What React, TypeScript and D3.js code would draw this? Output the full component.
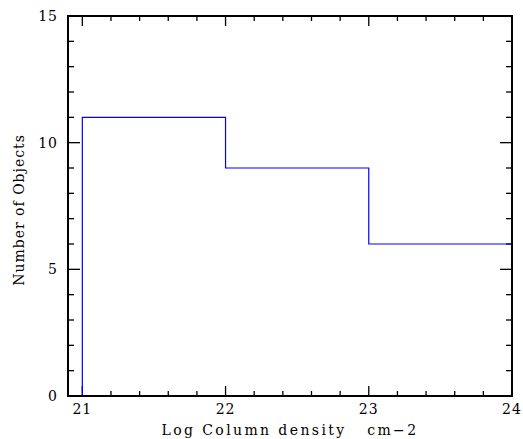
import React from "react";
import * as d3 from "d3";

const binEdges = [21, 22, 23, 24];
const counts = [11, 9, 6];
const xTicks = [21, 22, 23, 24];
const yTicks = [0, 5, 10, 15];
const xLabel = "Log Column density   cm\u22122";
const yLabel = "Number of Objects";

export default function App() {
  const W = 523, H = 439;
  const m = { l: 68, r: 11, t: 16, b: 43 };
  const x = d3.scaleLinear().domain([20.9, 24]).range([m.l, W - m.r]);
  const y = d3.scaleLinear().domain([0, 15]).range([H - m.b, m.t]);
  const x0 = x.domain()[0];
  const pts: [number, number][] = [[x0, 0], [binEdges[0], 0]];
  counts.forEach((c, i) => {
    pts.push([binEdges[i], c]);
    pts.push([binEdges[i + 1], c]);
  });
  const line = d3.line<[number, number]>().x(d => x(d[0])).y(d => y(d[1]));
  const xMinor = d3.range(21, 24.001, 0.2).filter(v => !xTicks.some(t => Math.abs(t - v) < 1e-6));
  const yMinor = d3.range(0, 15.001, 1).filter(v => v % 5 !== 0);
  const font = "'DejaVu Serif', serif";
  const x1 = m.l, x2 = W - m.r, y1 = m.t, y2 = H - m.b;
  return (
    <svg width={W} height={H} style={{ position: "absolute", left: 0, top: 0, background: "#fff" }}>
      <g stroke="#000" strokeWidth={1.3}>
        {xTicks.map(t => (
          <g key={"xt" + t}>
            <line x1={x(t)} x2={x(t)} y1={y2} y2={y2 - 10} />
            <line x1={x(t)} x2={x(t)} y1={y1} y2={y1 + 10} />
          </g>
        ))}
        {xMinor.map(t => (
          <g key={"xm" + t}>
            <line x1={x(t)} x2={x(t)} y1={y2} y2={y2 - 5} />
            <line x1={x(t)} x2={x(t)} y1={y1} y2={y1 + 5} />
          </g>
        ))}
        {yTicks.map(t => (
          <g key={"yt" + t}>
            <line x1={x1} x2={x1 + 12} y1={y(t)} y2={y(t)} />
            <line x1={x2} x2={x2 - 12} y1={y(t)} y2={y(t)} />
          </g>
        ))}
        {yMinor.map(t => (
          <g key={"ym" + t}>
            <line x1={x1} x2={x1 + 6} y1={y(t)} y2={y(t)} />
            <line x1={x2} x2={x2 - 6} y1={y(t)} y2={y(t)} />
          </g>
        ))}
      </g>
      <path d={line(pts) || ""} fill="none" stroke="#0000ff" strokeWidth={1.2} />
      <rect x={x1} y={y1} width={x2 - x1} height={y2 - y1} fill="none" stroke="#000" strokeWidth={2} />
      <g fontFamily={font} fontSize={14} fill="#000" letterSpacing={1}>
        {xTicks.map(t => (
          <text key={"xl" + t} x={x(t)} y={y2 + 18} textAnchor="middle">{t}</text>
        ))}
        {yTicks.map(t => (
          <text key={"yl" + t} x={x1 - 10} y={y(t) + 5} textAnchor="end">{t}</text>
        ))}
        <text x={290} y={435} textAnchor="middle" letterSpacing={2.4} style={{ whiteSpace: "pre" }}>{xLabel}</text>
        <text transform={`translate(24,210) rotate(-90)`} textAnchor="middle">{yLabel}</text>
      </g>
    </svg>
  );
}
